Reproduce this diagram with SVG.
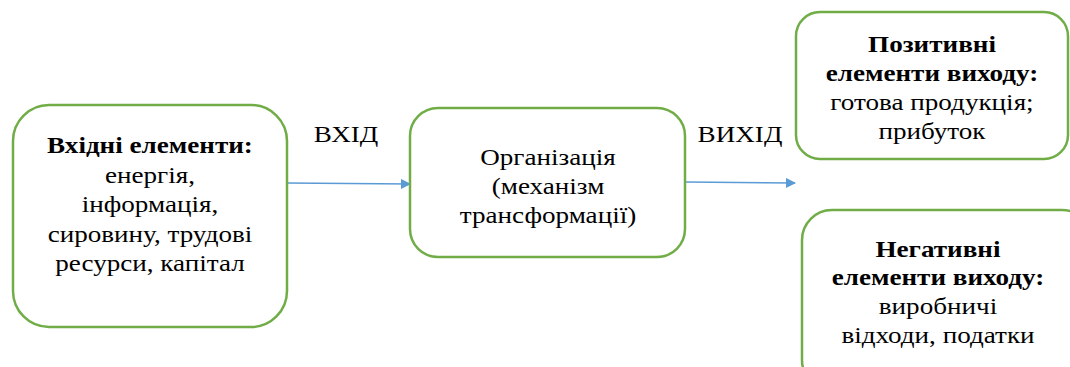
<svg xmlns="http://www.w3.org/2000/svg" width="1070" height="367" viewBox="0 0 1070 367">
<style>
.box{fill:#fff;stroke:#70AD47;stroke-width:2.5}
.c{stroke:#5B9BD5;stroke-width:1.5;fill:none}
</style>
<defs>
<marker id="ah" markerWidth="10" markerHeight="10" refX="9" refY="5" orient="auto" markerUnits="userSpaceOnUse">
<path d="M0,0 L10,5 L0,10 z" fill="#5B9BD5"/>
</marker>
</defs>
<rect width="1070" height="367" fill="#fff"/>
<g id="connectors">
<line class="c" x1="287" y1="183" x2="410" y2="184" marker-end="url(#ah)"/>
<line class="c" x1="686" y1="182" x2="795" y2="183" marker-end="url(#ah)"/>
</g>
<g id="label-vhid" transform="translate(346 0) scale(1.13 1)"><text x="0" y="142" font-family="'Liberation Serif', serif" font-size="24" text-anchor="middle">ВХІД</text></g>
<g id="label-vyhid" transform="translate(740 0) scale(1.13 1)"><text x="0" y="142" font-family="'Liberation Serif', serif" font-size="24" text-anchor="middle">ВИХІД</text></g>
<g id="input">
<rect class="box" x="13" y="105" width="274" height="222" rx="36"/>
<g transform="translate(150 0) scale(1.13 1)">
<text x="0" y="153" font-family="'Liberation Serif', serif" font-size="24" text-anchor="middle" font-weight="bold">Вхідні елементи:</text>
<text x="0" y="183" font-family="'Liberation Serif', serif" font-size="24" text-anchor="middle">енергія,</text>
<text x="0" y="212" font-family="'Liberation Serif', serif" font-size="24" text-anchor="middle">інформація,</text>
<text x="0" y="242" font-family="'Liberation Serif', serif" font-size="24" text-anchor="middle">сировину, трудові</text>
<text x="0" y="271" font-family="'Liberation Serif', serif" font-size="24" text-anchor="middle">ресурси, капітал</text>
</g>
</g>
<g id="organization">
<rect class="box" x="410" y="108" width="275" height="149" rx="28"/>
<g transform="translate(548 0) scale(1.13 1)">
<text x="0" y="165" font-family="'Liberation Serif', serif" font-size="24" text-anchor="middle">Організація</text>
<text x="0" y="194" font-family="'Liberation Serif', serif" font-size="24" text-anchor="middle">(механізм</text>
<text x="0" y="223" font-family="'Liberation Serif', serif" font-size="24" text-anchor="middle">трансформації)</text>
</g>
</g>
<g id="positive">
<rect class="box" x="796" y="12" width="272" height="147" rx="24"/>
<g transform="translate(932 0) scale(1.13 1)">
<text x="0" y="52" font-family="'Liberation Serif', serif" font-size="24" text-anchor="middle" font-weight="bold">Позитивні</text>
<text x="0" y="81" font-family="'Liberation Serif', serif" font-size="24" text-anchor="middle" font-weight="bold">елементи виходу:</text>
<text x="0" y="110" font-family="'Liberation Serif', serif" font-size="24" text-anchor="middle">готова продукція;</text>
<text x="0" y="139" font-family="'Liberation Serif', serif" font-size="24" text-anchor="middle">прибуток</text>
</g>
</g>
<g id="negative">
<rect class="box" x="802" y="210" width="290" height="180" rx="30"/>
<g transform="translate(938 0) scale(1.13 1)">
<text x="0" y="257" font-family="'Liberation Serif', serif" font-size="24" text-anchor="middle" font-weight="bold">Негативні</text>
<text x="0" y="285" font-family="'Liberation Serif', serif" font-size="24" text-anchor="middle" font-weight="bold">елементи виходу:</text>
<text x="0" y="314" font-family="'Liberation Serif', serif" font-size="24" text-anchor="middle">виробничі</text>
<text x="0" y="343" font-family="'Liberation Serif', serif" font-size="24" text-anchor="middle">відходи, податки</text>
</g>
</g>
</svg>
